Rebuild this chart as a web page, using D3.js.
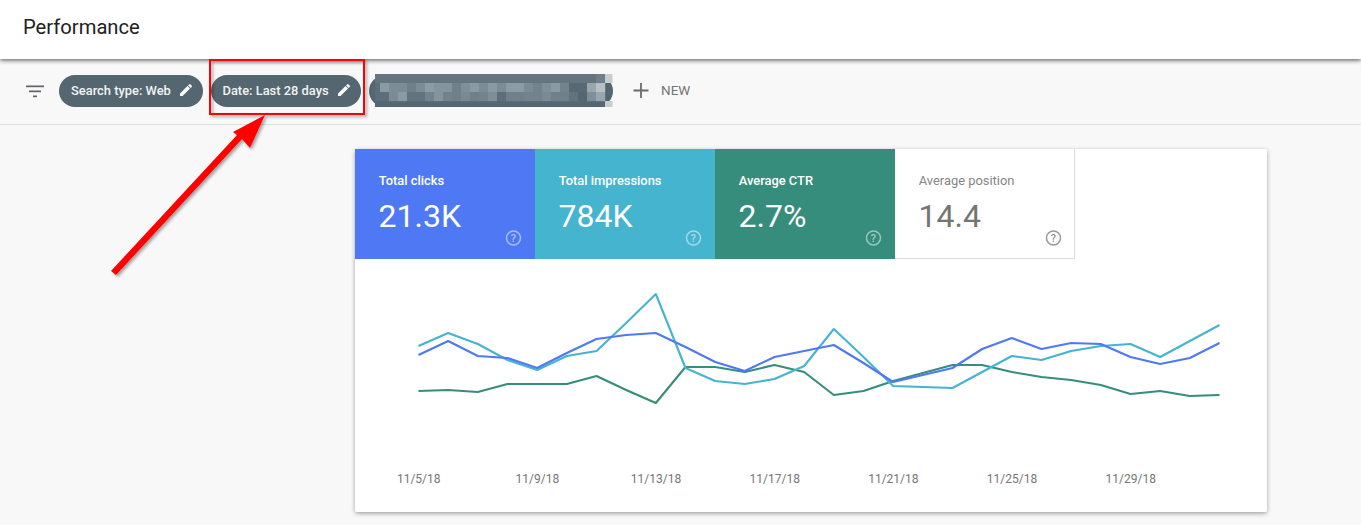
<!DOCTYPE html>
<html>
<head>
<meta charset="utf-8">
<script src="https://cdnjs.cloudflare.com/ajax/libs/d3/7.8.5/d3.min.js"></script>
<style>
html,body{margin:0;padding:0;background:#f8f8f8;overflow:hidden}
svg{display:block}
text{font-family:Roboto,sans-serif}
</style>
</head>
<body>
<svg id="c" width="1361" height="525"></svg>
<script>
// Chart data: height of each daily reading, in relative units (the chart has no value axis)
const startDate = "2018-11-05";
const tickDates = ["2018-11-05","2018-11-09","2018-11-13","2018-11-17","2018-11-21","2018-11-25","2018-11-29"];
const clicks = [85,99,84,82,72,87,101,105,107,93,78,69,83,89,95,77,58,65,72,91,102,91,97,96,83,76,82,97];
const impressions = [94,107,96,80,70,84,89,117,146,72,59,56,61,74,111,83,54,53,52,68,84,80,89,94,96,83,99,115];
const ctr = [49,50,48,56,56,56,64,50,37,73,73,68,75,68,45,49,59,67,75,75,68,63,60,55,46,49,44,45];
const seriesNames = ["Total clicks","Total impressions","Average CTR","Average position"];
const seriesTotals = ["21.3K","784K","2.7%","14.4"];
const chipLabels = ["Search type: Web","Date: Last 28 days"];
const blurRow2 = ["#8a9aa3","#7c8c96","#7c8c96","#6f808b","#7c8c96","#8c9ca5","#84949e","#84949e","#6f808b","#7f8f99","#8a9aa3","#7c8c96","#8a9aa3","#7c8c96","#8c9ca5","#8c9ca5","#7c8c96","#72838e","#7f8f99","#8a9aa3","#72838e","#566975","#566975","#98a6ad","#b7c0c5"];
const blurRow3 = ["#5c6e79","#7c8c96","#8a9aa3","#61737f","#61737f","#72838e","#84949e","#72838e","#6f808b","#7a8a94","#6f808b","#72838e","#7f8f99","#5c6e79","#6f808b","#6f808b","#72838e","#72838e","#7a8a94","#6f808b","#6f808b","#61737f","#546670","#7f8f99","#98a6ad"];

const svg = d3.select("#c");
const colors = ["#4f78f5","#45b4cf","#378d7b"];
const defs = svg.append("defs");
function shadow(id,dx,dy,sd,op){
  defs.append("filter").attr("id",id).attr("x","-10%").attr("y","-30%").attr("width","120%").attr("height","170%")
    .append("feDropShadow").attr("dx",dx).attr("dy",dy).attr("stdDeviation",sd).attr("flood-color","#000").attr("flood-opacity",op);
}
shadow("sHead",0,1.5,2,0.6);
shadow("sCard",0,1.5,2,0.36);
shadow("sRed",2,2,1.5,0.35);

// page
svg.append("rect").attr("width",1361).attr("height",525).attr("fill","#f8f8f8");
svg.append("rect").attr("y",124).attr("width",1361).attr("height",1).attr("fill","#dedede");
svg.append("rect").attr("width",1361).attr("height",59).attr("fill","#fff").attr("filter","url(#sHead)");
svg.append("text").attr("x",23).attr("y",33.5).attr("font-size",20.2).attr("fill","#212121").text("Performance");

// filter icon
[[26,18],[29,12],[33,4]].forEach((d,i)=>svg.append("rect").attr("x",d[0]).attr("y",85.5+i*5).attr("width",d[1]).attr("height",1.7).attr("fill","#5f6368"));

// chips
const pencil = "M0 10.5V13h2.5L10 5.5 7.5 3zM11.8 3.7a.66.66 0 0 0 0-.95L10.25 1.2a.66.66 0 0 0-.95 0L8.1 2.4l2.5 2.5z";
const chipGeom = [{x:59,w:144,tx:71,ix:180},{x:211,w:150,tx:222.5,ix:338}];
chipLabels.forEach((t,i)=>{
  const g = chipGeom[i];
  svg.append("rect").attr("x",g.x).attr("y",75).attr("width",g.w).attr("height",32).attr("rx",16).attr("fill","#546670");
  svg.append("text").attr("x",g.tx).attr("y",95).attr("font-size",12.9).attr("font-weight",500).attr("fill","#f1f3f4").text(t);
  svg.append("path").attr("d",pencil).attr("transform",`translate(${g.ix},83)`).attr("fill","#fff");
});

// obscured chip
svg.append("rect").attr("x",369).attr("y",75).attr("width",244).attr("height",32).attr("rx",16).attr("fill","#546670");
svg.append("rect").attr("x",375).attr("y",74).attr("width",237).attr("height",9).attr("fill","#64757f");
svg.append("rect").attr("x",375).attr("y",83).attr("width",5).attr("height",18).attr("fill","#5c6e79");
svg.append("rect").attr("x",375).attr("y",101).attr("width",237).attr("height",6).attr("fill","#556772");
[blurRow2,blurRow3].forEach((row,r)=>{
  svg.append("g").selectAll("rect").data(row).join("rect")
    .attr("x",(d,i)=>380+i*9).attr("y",83+r*9).attr("width",9.2).attr("height",9.2).attr("fill",d=>d);
});
svg.append("rect").attr("x",605).attr("y",74).attr("width",7.5).attr("height",9).attr("fill","#c5cdd1");
svg.append("rect").attr("x",605).attr("y",101).attr("width",7.5).attr("height",6).attr("fill","#c5cdd1");
svg.append("rect").attr("x",596).attr("y",74).attr("width",9).attr("height",9).attr("fill","#6f808b");

// NEW
svg.append("path").attr("d","M641 83V98M633.5 90.5H648.5").attr("stroke","#6b6b6b").attr("stroke-width",1.8);
svg.append("text").attr("x",661).attr("y",94.5).attr("font-size",13.5).attr("font-weight",400).attr("fill","#757575").text("NEW");

// card
svg.append("rect").attr("x",355).attr("y",149).attr("width",912).attr("height",363).attr("rx",2).attr("fill","#fff").attr("filter","url(#sCard)");

// tiles
seriesNames.forEach((name,i)=>{
  const x = 355+i*180, on = i<3;
  if(on) svg.append("rect").attr("x",x).attr("y",149).attr("width",180).attr("height",110).attr("fill",colors[i]);
  else svg.append("path").attr("d",`M${x+179.5} 149V258.5H${x}`).attr("fill","none").attr("stroke","#dcdcdc");
  svg.append("text").attr("x",x+23.7).attr("y",185).attr("font-size",12.9).attr("font-weight",on?500:400).attr("fill",on?"#fff":"#858585").text(name);
  svg.append("text").attr("x",x+23.5).attr("y",227).attr("font-size",32).attr("fill",on?"#fff":"#757575").text(seriesTotals[i]);
  const hx = x+158.5, hy=238, hc = on?"#fff":"#757575";
  svg.append("circle").attr("cx",hx).attr("cy",hy).attr("r",7).attr("fill","none").attr("stroke",hc).attr("stroke-width",1.5).attr("opacity",on?0.5:0.75);
  svg.append("text").attr("x",hx).attr("y",hy+4).attr("text-anchor","middle").attr("font-size",11).attr("font-weight",500).attr("fill",hc).attr("opacity",on?0.55:0.8).text("?");
});

// chart
const parse = d3.utcParse("%Y-%m-%d");
const day0 = parse(startDate);
const dates = clicks.map((_,i)=>d3.utcDay.offset(day0,i));
const x = d3.scaleUtc().domain([day0,dates[27]]).range([418.5,1219.5]);
const y = d3.scaleLinear().domain([0,160]).range([440,280]);
const line = d3.line().x((d,i)=>x(dates[i])).y(d=>y(d));
[ctr,impressions,clicks].forEach((s,i)=>{
  svg.append("path").datum(s).attr("d",line).attr("fill","none")
    .attr("stroke",[colors[2],colors[1],colors[0]][i]).attr("stroke-width",2.1).attr("stroke-linejoin","round");
});
const axis = d3.axisBottom(x).tickValues(tickDates.map(parse)).tickSize(0)
  .tickFormat(d=>`${d.getUTCMonth()+1}/${d.getUTCDate()}/${String(d.getUTCFullYear()).slice(2)}`);
const ax = svg.append("g").attr("transform","translate(-0.3,470)").call(axis);
ax.select(".domain").remove();
ax.selectAll("text").attr("font-size",12).attr("font-family","Roboto,sans-serif").attr("fill","#757575").attr("dy","0.71em").attr("y",4);

// annotation
const ann = svg.append("g").attr("filter","url(#sRed)");
ann.append("rect").attr("x",210).attr("y",60).attr("width",154).attr("height",54).attr("fill","none").attr("stroke","#f00").attr("stroke-width",2);
ann.append("path").attr("d","M265 115L250 148L242 139L116 275L111 271L237 135L233 132Z").attr("fill","#f00");
</script>
</body>
</html>
